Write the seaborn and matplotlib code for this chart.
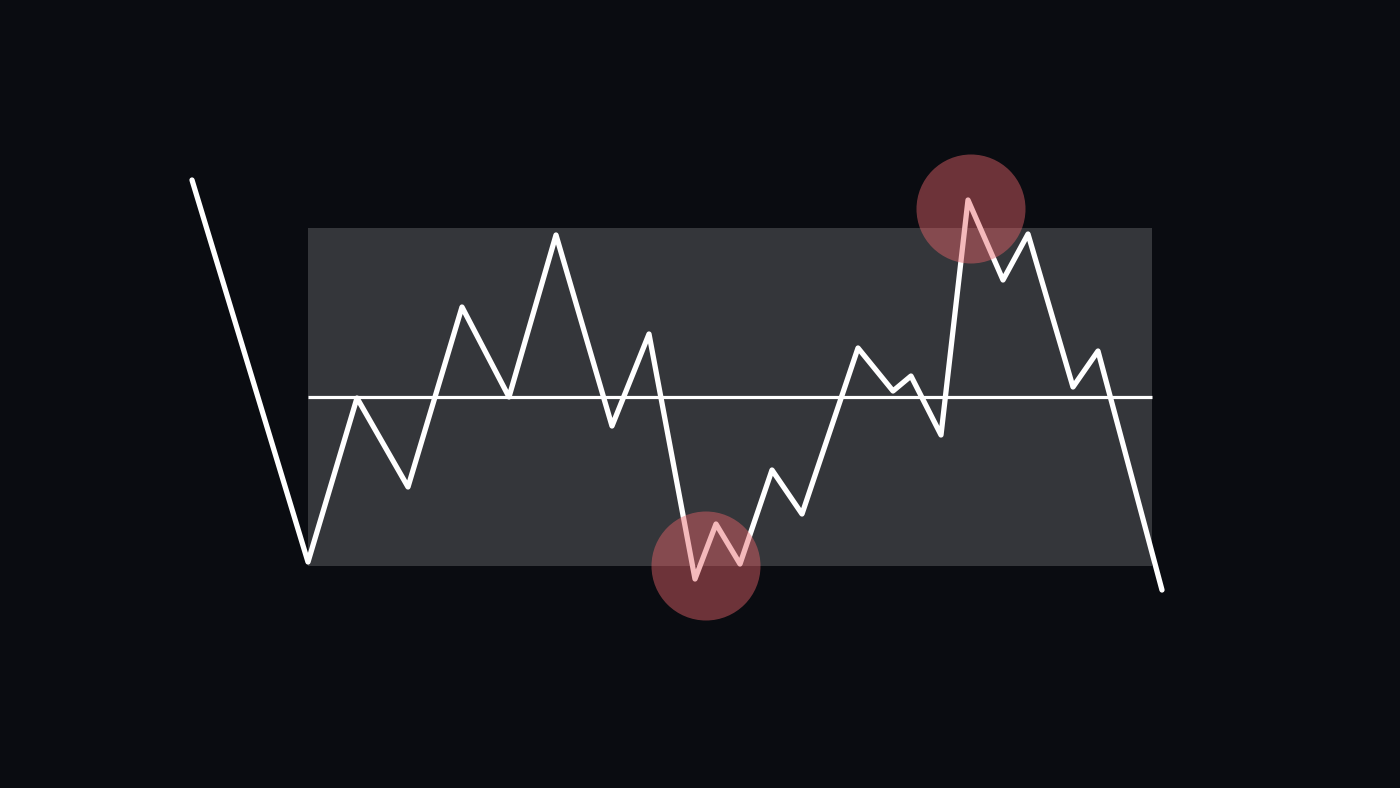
import matplotlib
matplotlib.use("Agg")
import matplotlib.pyplot as plt
import seaborn as sns
import pandas as pd
from matplotlib.patches import Rectangle, Circle

# ---- data (pixel-like coordinate space, y grows downward) ----
line_x = [192, 308, 357, 408, 462, 509, 556, 612, 649, 695, 716, 740, 772, 802,
          858, 893, 911, 941, 968, 1003, 1028, 1073, 1098, 1162]
line_y = [180, 562, 398, 487, 307, 397, 235, 426, 334, 579, 524, 564, 470, 514,
          348, 391, 376, 435, 200, 280, 234, 387, 351, 590]

band_x = [308, 1152]
band_y = [228, 566]
mean_y = 397

highlight_x = [706, 971]
highlight_y = [566, 209]
highlight_r = 54.5

BG = "#0a0c11"
BAND = "#34363a"
HL = "#e8646a"

sns.set_theme(style="dark")
fig = plt.figure(figsize=(14, 7.88), dpi=100, facecolor=BG)
ax = fig.add_axes([0, 0, 1, 1])
ax.set_facecolor(BG)
ax.set_xlim(0, 1400)
ax.set_ylim(788, 0)
ax.axis("off")

ax.add_patch(Rectangle((band_x[0], band_y[0]), band_x[1] - band_x[0], band_y[1] - band_y[0],
                       facecolor=BAND, edgecolor="none", zorder=1))
ax.plot(band_x, [mean_y, mean_y], color="white", lw=2.3, zorder=2, solid_capstyle="butt")

df = pd.DataFrame({"x": line_x, "y": line_y})
sns.lineplot(data=df, x="x", y="y", sort=False, estimator=None, color="white",
             lw=3.8, ax=ax, zorder=3)
for l in ax.lines:
    l.set_solid_joinstyle("round")
    l.set_solid_capstyle("round")
ax.lines[0].set_solid_capstyle("butt")

for cx, cy in zip(highlight_x, highlight_y):
    ax.add_patch(Circle((cx, cy), highlight_r, facecolor=HL, edgecolor="none",
                        alpha=0.45, zorder=4))

ax.set_xlim(0, 1400)
ax.set_ylim(788, 0)
ax.axis("off")
fig.savefig("out.png", dpi=100, facecolor=BG)
